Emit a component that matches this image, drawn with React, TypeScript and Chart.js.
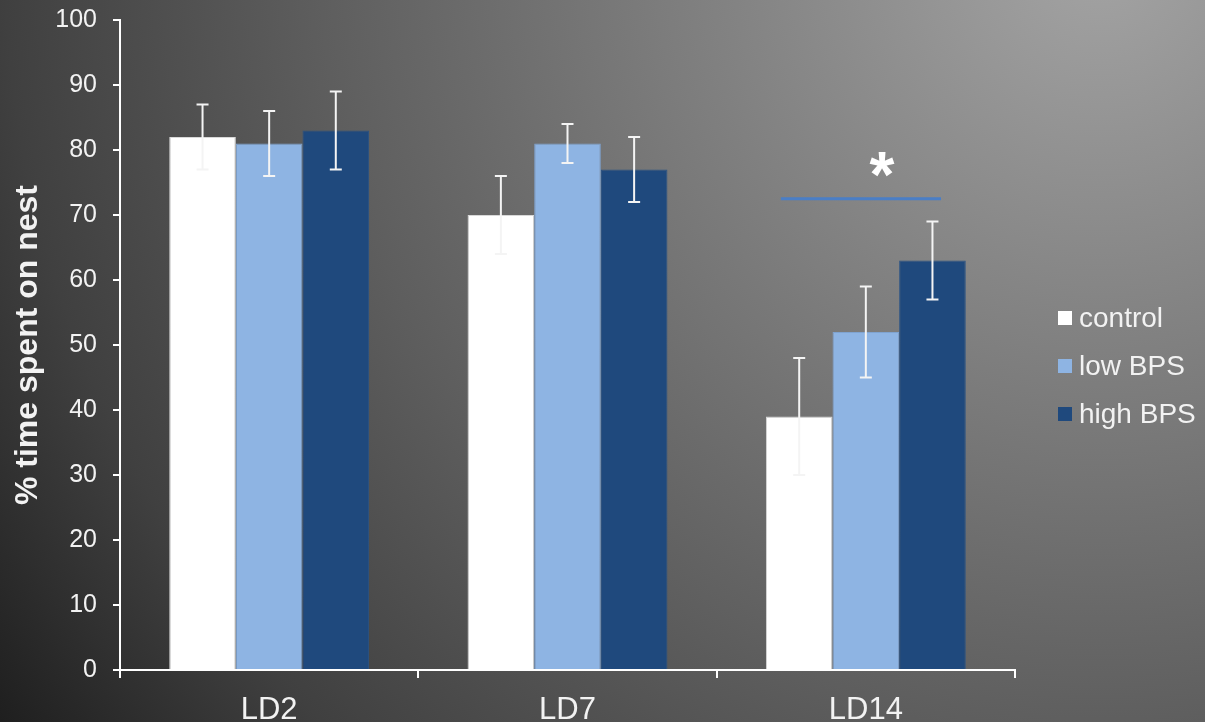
import React, { useEffect, useRef } from "react";
import { Chart, registerables } from "chart.js";

Chart.register(...registerables);

// ---- data ----
const categories = ["LD2", "LD7", "LD14"];
const seriesNames = ["control", "low BPS", "high BPS"];
const controlValues = [82, 70, 39];
const controlErrors = [5, 6, 9];
const lowValues = [81, 81, 52];
const lowErrors = [5, 3, 7];
const highValues = [83, 77, 63];
const highErrors = [6, 5, 6];
const yTickValues = [0, 10, 20, 30, 40, 50, 60, 70, 80, 90, 100];
const yTitle = "% time spent on nest";
const sigCategory = 2;
const sigLevel = 72.5;
const sigLabel = "*";

const seriesValues = [controlValues, lowValues, highValues];
const seriesErrors = [controlErrors, lowErrors, highErrors];
const seriesColors = ["#ffffff", "#8eb4e3", "#1f497d"];
const seriesBorders = ["#d8d8d8", "#7fa3d0", "#2a5385"];

const FONT = "'Liberation Sans', Arial, sans-serif";
const TEXT = "#f2f2f2";

const errorBarPlugin = {
  id: "errorBars",
  afterDatasetsDraw(chart: any) {
    const ctx = chart.ctx;
    const y = chart.scales.y;
    ctx.save();
    ctx.strokeStyle = "#f4f4f4";
    ctx.lineWidth = 2;
    chart.data.datasets.forEach((ds: any, i: number) => {
      const meta = chart.getDatasetMeta(i);
      meta.data.forEach((el: any, j: number) => {
        const v = seriesValues[i][j];
        const e = seriesErrors[i][j];
        const yt = y.getPixelForValue(v + e);
        const yb = y.getPixelForValue(v - e);
        const x = el.x;
        ctx.beginPath();
        ctx.moveTo(x, yt);
        ctx.lineTo(x, yb);
        ctx.moveTo(x - 6, yt);
        ctx.lineTo(x + 6, yt);
        ctx.moveTo(x - 6, yb);
        ctx.lineTo(x + 6, yb);
        ctx.stroke();
      });
    });
    ctx.restore();
  },
};

const sigPlugin = {
  id: "significance",
  afterDatasetsDraw(chart: any) {
    const ctx = chart.ctx;
    const xs = chart.scales.x;
    const ys = chart.scales.y;
    const cw = xs.width / categories.length;
    const cx = xs.getPixelForValue(sigCategory);
    const yy = ys.getPixelForValue(sigLevel);
    ctx.save();
    ctx.strokeStyle = "#4a7ec6";
    ctx.lineWidth = 3;
    ctx.beginPath();
    ctx.moveTo(cx - 0.285 * cw, yy);
    ctx.lineTo(cx + 0.252 * cw, yy);
    ctx.stroke();
    ctx.fillStyle = "#ffffff";
    ctx.font = `bold 64px ${FONT}`;
    ctx.textAlign = "center";
    ctx.textBaseline = "alphabetic";
    ctx.fillText(sigLabel, cx + 0.054 * cw, yy - 2);
    ctx.restore();
  },
};

const legendPlugin = {
  id: "customLegend",
  afterDraw(chart: any) {
    const ctx = chart.ctx;
    const x0 = chart.chartArea.right + 43;
    const yMid = (chart.chartArea.top + chart.chartArea.bottom) / 2;
    ctx.save();
    ctx.font = `28px ${FONT}`;
    ctx.textBaseline = "middle";
    ctx.textAlign = "left";
    seriesNames.forEach((name, i) => {
      const cy = yMid + (i - 1) * 48 + 21;
      ctx.fillStyle = seriesColors[i];
      ctx.fillRect(x0, cy - 7, 14, 14);
      ctx.fillStyle = TEXT;
      ctx.fillText(name, x0 + 21, cy + 1);
    });
    ctx.restore();
  },
};

export default function App() {
  const ref = useRef<HTMLCanvasElement>(null);
  useEffect(() => {
    if (!ref.current) return;
    const chart = new Chart(ref.current, {
      type: "bar",
      data: {
        labels: categories,
        datasets: seriesNames.map((name, i) => ({
          label: name,
          data: seriesValues[i],
          backgroundColor: seriesColors[i],
          borderColor: seriesBorders[i],
          borderWidth: 1,
          categoryPercentage: 0.67,
          barPercentage: 1,
        })),
      },
      options: {
        animation: false,
        responsive: false,
        events: [],
        layout: { padding: { top: 20, right: 190, left: 0, bottom: 0 } },
        plugins: {
          legend: { display: false },
          tooltip: { enabled: false },
        },
        scales: {
          x: {
            afterFit(scale: any) {
              scale.height = 52;
              scale.paddingLeft = 0;
              scale.paddingRight = 0;
            },
            grid: {
              display: true,
              drawOnChartArea: false,
              drawTicks: true,
              tickLength: 8,
              color: "#ffffff",
              lineWidth: 2,
              offset: true,
            },
            border: { display: true, color: "#ffffff", width: 2 },
            ticks: {
              color: TEXT,
              font: { family: FONT, size: 31 },
              padding: 14,
            },
          },
          y: {
            min: 0,
            max: 100,
            afterFit(scale: any) {
              scale.width = 120;
              scale.paddingTop = 0;
              scale.paddingBottom = 0;
            },
            afterBuildTicks(scale: any) {
              scale.ticks = yTickValues.map((v) => ({ value: v }));
            },
            grid: {
              display: true,
              drawOnChartArea: false,
              drawTicks: true,
              tickLength: 7,
              color: "#ffffff",
              lineWidth: 2,
            },
            border: { display: true, color: "#ffffff", width: 2 },
            ticks: {
              color: TEXT,
              font: { family: FONT, size: 25 },
              padding: 16,
            },
            title: {
              display: true,
              text: yTitle,
              color: TEXT,
              font: { family: FONT, size: 32, weight: "bold" },
              padding: { top: 9, bottom: 0 },
            },
          },
        },
      },
      plugins: [errorBarPlugin, sigPlugin, legendPlugin],
    });
    return () => chart.destroy();
  }, []);

  return (
    <div
      style={{
        position: "fixed",
        left: 0,
        top: 0,
        width: 1205,
        height: 722,
        overflow: "hidden",
        background:
          "radial-gradient(circle 1500px at 1100px -50px, #a4a4a4 0%, #5e5e5e 52%, #404040 73%, #1e1e1e 90%, #1a1a1a 100%)",
      }}
    >
      <canvas ref={ref} width={1205} height={722} style={{ display: "block" }} />
    </div>
  );
}
